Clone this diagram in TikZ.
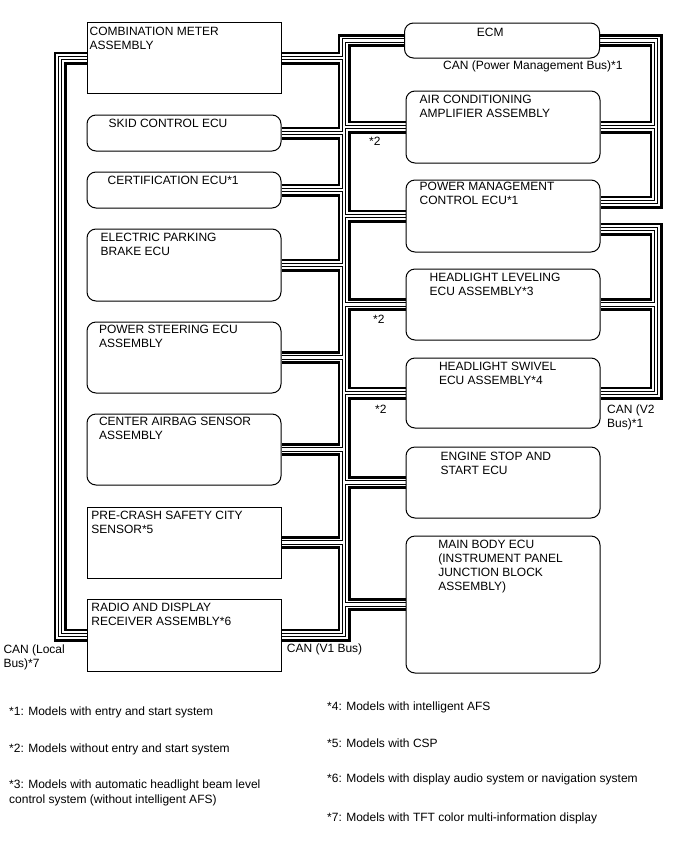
\documentclass[tikz,border=0pt]{standalone}
\usepackage{fontspec}
\setmainfont{Liberation Sans}
\usetikzlibrary{positioning,backgrounds}

\tikzset{
  ecubox/.style={draw, fill=white, line width=1pt, rounded corners=9pt,
    minimum width=194pt, inner sep=0pt},
  sqbox/.style={ecubox, sharp corners},
  boxtext/.style={anchor=north west, inner sep=0pt, align=left},
  note/.style={anchor=west, inner sep=0pt, align=left},
  % CAN線 (4層で重ね描き)
  wireA/.style={line width=13pt, black},
  wireB/.style={line width=7.6pt, white},
  wireC/.style={line width=4.4pt, black},
  wireD/.style={line width=2.4pt, white}
}

\newcommand{\canWires}[1]{%
  % Local Bus
  \draw[#1] (Meter.west) -| (LocalX |- Radio.west) -- (Radio.west);
  % V1 Bus
  \draw[#1] (Ecm.west) -| (V1X |- Radio.east) -- (Radio.east);
  \foreach \n in {Meter,Skid,Cert,Epb,Eps,Airbag,PreCrash}
    \draw[#1] (\n.east) -- (V1X |- \n.east);
  \foreach \n in {AirCon,PwrMgmt,HlLevel,HlSwivel,EngStop,MainBody}
    \draw[#1] (\n.west) -- (V1X |- \n.west);
  % Power Management Bus
  \draw[#1] (Ecm.east) -| (PmX |- PmIn) -- (PmIn);
  \draw[#1] (AirCon.east) -- (PmX |- AirCon.east);
  % V2 Bus
  \draw[#1] (V2In) -| (PmX |- HlSwivel.east) -- (HlSwivel.east);
  \draw[#1] (HlLevel.east) -- (PmX |- HlLevel.east);
}

\begin{document}
\begin{tikzpicture}[x=1pt, y=-1pt, font=\fontsize{12}{14}\selectfont]
  \useasboundingbox (0,0) rectangle (688,852);

  % --- 1. 左列のECU ---
  \node[sqbox,  minimum height=71pt] (Meter)    at (184,58)    {};
  \node[ecubox, minimum height=36pt] (Skid)     at (184,133)   {};
  \node[ecubox, minimum height=36pt] (Cert)     at (184,190)   {};
  \node[ecubox, minimum height=72pt] (Epb)      at (184,265)   {};
  \node[ecubox, minimum height=71pt] (Eps)      at (184,357.5) {};
  \node[ecubox, minimum height=71pt] (Airbag)   at (184,449.5) {};
  \node[sqbox,  minimum height=71pt] (PreCrash) at (184,542.5) {};
  \node[sqbox,  minimum height=72pt] (Radio)    at (184,635)   {};

  \node[boxtext, below right=4.7pt and 3pt of Meter.north west] (MeterTxt) {COMBINATION METER\\ASSEMBLY};
  \node[boxtext, below right=4.7pt and 22pt of Skid.north west] (SkidTxt) {SKID CONTROL ECU};
  \node[boxtext, below right=4.7pt and 21pt of Cert.north west] (CertTxt) {CERTIFICATION ECU*1};
  \node[boxtext, below right=4.4pt and 14pt of Epb.north west] (EpbTxt) {ELECTRIC PARKING\\BRAKE ECU};
  \node[boxtext, below right=3.4pt and 12.3pt of Eps.north west] (EpsTxt) {POWER STEERING ECU\\ASSEMBLY};
  \node[boxtext, below right=3.4pt and 12.3pt of Airbag.north west] (AirbagTxt) {CENTER AIRBAG SENSOR\\ASSEMBLY};
  \node[boxtext, below right=4pt and 4.7pt of PreCrash.north west] (PreCrashTxt) {PRE-CRASH SAFETY CITY\\SENSOR*5};
  \node[boxtext, below right=4.4pt and 4.7pt of Radio.north west] (RadioTxt) {RADIO AND DISPLAY\\RECEIVER ASSEMBLY*6};

  % --- 2. 右列のECU ---
  \node[ecubox, minimum height=35pt, minimum width=195pt] (Ecm) at (502,40.5) {};
  \node[ecubox, minimum height=72pt]  (AirCon)   at (503,127)   {};
  \node[ecubox, minimum height=72pt]  (PwrMgmt)  at (503,216)   {};
  \node[ecubox, minimum height=71pt]  (HlLevel)  at (503,304.5) {};
  \node[ecubox, minimum height=70pt]  (HlSwivel) at (503,393)   {};
  \node[ecubox, minimum height=71pt]  (EngStop)  at (503,482.5) {};
  \node[ecubox, minimum height=137pt] (MainBody) at (503,604.5) {};

  \node[boxtext, below right=5.7pt and 72.7pt of Ecm.north west] (EcmTxt) {ECM};
  \node[boxtext, below right=4.7pt and 14pt of AirCon.north west] (AirConTxt) {AIR CONDITIONING\\AMPLIFIER ASSEMBLY};
  \node[boxtext, below right=2.4pt and 14pt of PwrMgmt.north west] (PwrMgmtTxt) {POWER MANAGEMENT\\CONTROL ECU*1};
  \node[boxtext, below right=4.4pt and 24pt of HlLevel.north west] (HlLevelTxt) {HEADLIGHT LEVELING\\ECU ASSEMBLY*3};
  \node[boxtext, below right=4.4pt and 33.3pt of HlSwivel.north west] (HlSwivelTxt) {HEADLIGHT SWIVEL\\ECU ASSEMBLY*4};
  \node[boxtext, below right=5pt and 35pt of EngStop.north west] (EngStopTxt) {ENGINE STOP AND\\START ECU};
  \node[boxtext, below right=4.7pt and 32.6pt of MainBody.north west] (MainBodyTxt) {MAIN BODY ECU\\(INSTRUMENT PANEL\\JUNCTION BLOCK\\ASSEMBLY)};

  % --- 3. CAN線 ---
  \coordinate (LocalX) at (60,0);
  \coordinate (V1X)    at (344,0);
  \coordinate (PmX)    at (656,0);
  \coordinate (PmIn)   at ([yshift=14pt]PwrMgmt.east);
  \coordinate (V2In)   at ([yshift=-13pt]PwrMgmt.east);

  \begin{scope}[on background layer]
    \canWires{wireA}
    \canWires{wireB}
    \canWires{wireC}
    \canWires{wireD}
  \end{scope}

  % --- 4. 線のラベル ---
  \node[note] (PmLbl) at (443,66.7) {CAN (Power Management Bus)*1};
  \node[note, anchor=north west] (V2Lbl) at (607,404.5) {CAN (V2\\Bus)*1};
  \node[note, anchor=north west] (LocalLbl) at (3.3,644.7) {CAN (Local\\Bus)*7};
  \node[note] (V1Lbl) at (286.7,649) {CAN (V1 Bus)};
  \node[note] (StarA) at (369,141.7) {*2};
  \node[note] (StarB) at (373,319)   {*2};
  \node[note] (StarC) at (375,409)   {*2};

  % --- 5. 注記 ---
  \node[note] (Fn1) at (9,712) {*1: Models with entry and start system};
  \node[note] (Fn2) at (9,749) {*2: Models without entry and start system};
  \node[note, anchor=north west, font=\fontsize{12}{15}\selectfont] (Fn3) at (9,779.7)
    {*3: Models with automatic headlight beam level\\control system (without intelligent AFS)};
  \node[note] (Fn4) at (327,707) {*4: Models with intelligent AFS};
  \node[note] (Fn5) at (327,743) {*5: Models with CSP};
  \node[note] (Fn6) at (327,779) {*6: Models with display audio system or navigation system};
  \node[note] (Fn7) at (327,818) {*7: Models with TFT color multi-information display};

\end{tikzpicture}
\end{document}
